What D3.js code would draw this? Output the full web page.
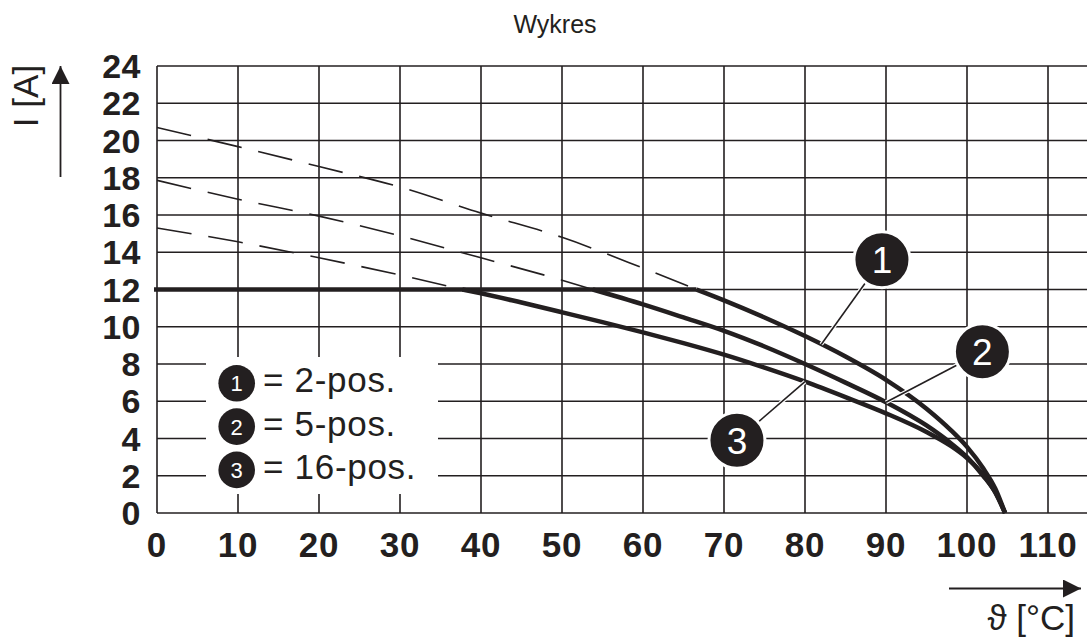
<!DOCTYPE html>
<html>
<head>
<meta charset="utf-8">
<script src="https://cdn.jsdelivr.net/npm/d3@7"></script>
<style>
  body { margin: 0; background: #fff; }
  text { font-family: "Liberation Sans", Arial, Helvetica, sans-serif; fill: #231f20; }
</style>
</head>
<body>
<div id="chart"></div>
<script>
// chart data
const tempTicks = [0, 10, 20, 30, 40, 50, 60, 70, 80, 90, 100, 110];
const currentTicks = [0, 2, 4, 6, 8, 10, 12, 14, 16, 18, 20, 22, 24];

const limit = 12;  // A, flat upper limit
const limitEnd = 66.6;

// dashed extrapolations above the limit
const dashed1 = [[0, 20.7], [10, 19.67], [20, 18.6], [30, 17.5], [40, 16.1], [50, 14.8], [60, 13.15], [66.6, 12]];
const dashed2 = [[0, 17.86], [10, 16.85], [20, 15.94], [30, 14.88], [40, 13.7], [50, 12.5], [53.8, 12]];
const dashed3 = [[0, 15.3], [10, 14.56], [20, 13.7], [30, 12.78], [37.7, 12]];

// derating curves
const curve1 = [[66.6, 12], [70, 11.42], [75, 10.5], [80, 9.5], [85, 8.4], [90, 7.15], [95, 5.6],
  [98, 4.45], [100, 3.55], [102, 2.4], [103.5, 1.3], [104.7, 0]];
const curve2 = [[53.8, 12], [60, 11.2], [65, 10.5], [70, 9.78], [75, 8.94], [80, 8.0], [85, 7.0], [90, 5.95],
  [95, 4.7], [98, 3.75], [100, 3.0], [102, 2.0], [103.5, 1.1], [104.7, 0]];
const curve3 = [[37.7, 12], [40, 11.8], [45, 11.3], [50, 10.78], [55, 10.25], [60, 9.7], [65, 9.12], [70, 8.5],
  [75, 7.8], [80, 7.05], [85, 6.22], [90, 5.35], [95, 4.35], [98, 3.6], [100, 2.95], [102, 2.05], [103.5, 1.1], [104.7, 0]];

// numbered callouts: label, circle centre, point on curve
const callouts = [
  { n: '1', c: [89.5, 13.6], p: [82, 9.05] },
  { n: '2', c: [101.9, 8.66], p: [90, 5.95] },
  { n: '3', c: [71.6, 3.9], p: [80, 7.05] }
];

const legendLabels = ['2-pos.', '5-pos.', '16-pos.'];

//////////////////////////////////////
// drawing
//////////////////////////////////////
const W = 1087, H = 639;
const INK = '#231f20';

const svg = d3.select('#chart').append('svg')
  .attr('width', W)
  .attr('height', H);

const x = d3.scaleLinear().domain([0, 110]).range([157, 1048]);
const y = d3.scaleLinear().domain([0, 24]).range([513, 66]);
const xRight = W;

// title
svg.append('text')
  .attr('x', 555).attr('y', 33)
  .attr('text-anchor', 'middle')
  .attr('font-size', 25)
  .text('Wykres');

// grid
const grid = svg.append('g').attr('stroke', INK).attr('stroke-width', 1.6);
currentTicks.forEach(v => {
  grid.append('line')
    .attr('x1', x(0)).attr('x2', xRight)
    .attr('y1', y(v)).attr('y2', y(v));
});
tempTicks.forEach(v => {
  grid.append('line')
    .attr('x1', x(v)).attr('x2', x(v))
    .attr('y1', y(24)).attr('y2', y(0));
});

// legend box blanks out the grid behind it
svg.append('rect')
  .attr('x', 206).attr('y', 357)
  .attr('width', 232).attr('height', 137)
  .attr('fill', '#fff');

// tick labels
svg.append('g').selectAll('text')
  .data(currentTicks)
  .join('text')
  .attr('x', 141)
  .attr('y', d => y(d))
  .attr('dy', '0.36em')
  .attr('text-anchor', 'end')
  .attr('font-size', 34)
  .attr('font-weight', 'bold')
  .style('letter-spacing', '0.5px')
  .text(d => d);

svg.append('g').selectAll('text')
  .data(tempTicks)
  .join('text')
  .attr('x', d => x(d))
  .attr('y', 557)
  .attr('text-anchor', 'middle')
  .attr('font-size', 35)
  .attr('font-weight', 'bold')
  .style('letter-spacing', '0.8px')
  .text(d => d);

// lines
const smooth = d3.line().x(d => x(d[0])).y(d => y(d[1])).curve(d3.curveMonotoneX);

[dashed1, dashed2, dashed3].forEach(d => {
  svg.append('path')
    .attr('d', smooth(d))
    .attr('fill', 'none')
    .attr('stroke', INK)
    .attr('stroke-width', 1.6)
    .attr('stroke-dasharray', '35 17');
});

svg.append('line')
  .attr('x1', x(0) - 3).attr('x2', x(limitEnd))
  .attr('y1', y(limit)).attr('y2', y(limit))
  .attr('stroke', INK)
  .attr('stroke-width', 4.5);

[curve1, curve2, curve3].forEach(d => {
  svg.append('path')
    .attr('d', smooth(d))
    .attr('fill', 'none')
    .attr('stroke', INK)
    .attr('stroke-width', 4.5)
    .attr('stroke-linecap', 'butt');
});

// callouts
callouts.forEach(c => {
  const cx = x(c.c[0]), cy = y(c.c[1]);
  const px = x(c.p[0]), py = y(c.p[1]);
  const r = 28;
  const a = Math.atan2(py - cy, px - cx);
  svg.append('line')
    .attr('x1', cx + r * Math.cos(a)).attr('y1', cy + r * Math.sin(a))
    .attr('x2', px).attr('y2', py)
    .attr('stroke', '#fff').attr('stroke-width', 4);
  svg.append('line')
    .attr('x1', cx + r * Math.cos(a)).attr('y1', cy + r * Math.sin(a))
    .attr('x2', px).attr('y2', py)
    .attr('stroke', INK).attr('stroke-width', 1.6);
  svg.append('circle')
    .attr('cx', cx).attr('cy', cy).attr('r', r)
    .attr('fill', INK)
    .attr('stroke', '#fff').attr('stroke-width', 3);
  svg.append('text')
    .attr('x', cx).attr('y', cy)
    .attr('dy', '0.36em')
    .attr('text-anchor', 'middle')
    .attr('font-size', 37)
    .style('fill', '#fff')
    .text(c.n);
});

// legend
legendLabels.forEach((t, i) => {
  const cy = 383.3 + i * 43.3;
  svg.append('circle')
    .attr('cx', 236.7).attr('cy', cy).attr('r', 18.3)
    .attr('fill', INK);
  svg.append('text')
    .attr('x', 236.7).attr('y', cy)
    .attr('dy', '0.36em')
    .attr('text-anchor', 'middle')
    .attr('font-size', 22)
    .style('fill', '#fff')
    .text(i + 1);
  svg.append('text')
    .attr('x', 263).attr('y', cy + 9)
    .attr('font-size', 35)
    .style('letter-spacing', '0.7px')
    .text('= ' + t);
});

// axis titles with arrows
svg.append('defs').append('marker')
  .attr('id', 'arrow')
  .attr('viewBox', '0 0 10 10')
  .attr('refX', 10).attr('refY', 5)
  .attr('markerUnits', 'userSpaceOnUse')
  .attr('markerWidth', 32).attr('markerHeight', 18)
  .attr('orient', 'auto')
  .append('path')
  .attr('d', 'M0,0 L10,5 L0,10 Z')
  .attr('fill', INK);

svg.append('line')
  .attr('x1', 60.5).attr('y1', 177)
  .attr('x2', 60.5).attr('y2', 66)
  .attr('stroke', INK).attr('stroke-width', 1.8)
  .attr('marker-end', 'url(#arrow)');

svg.append('text')
  .attr('transform', 'translate(38,96)rotate(-90)')
  .attr('text-anchor', 'middle')
  .attr('font-size', 35)
  .text('I [A]');

svg.append('line')
  .attr('x1', 949).attr('y1', 588.5)
  .attr('x2', 1081).attr('y2', 588.5)
  .attr('stroke', INK).attr('stroke-width', 1.8)
  .attr('marker-end', 'url(#arrow)');

svg.append('text')
  .attr('x', 1075).attr('y', 630)
  .attr('text-anchor', 'end')
  .attr('font-size', 35)
  .text('\u03D1 [°C]');
</script>
</body>
</html>
